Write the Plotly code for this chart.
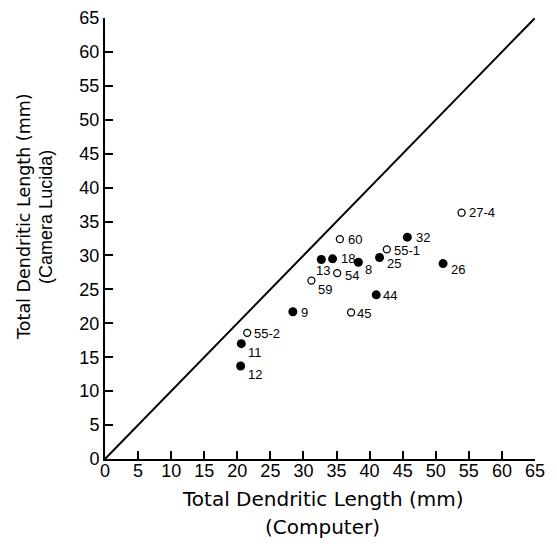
import plotly.graph_objects as go

# Data (Computer vs Camera Lucida total dendritic length, mm)
filled_labels = ["18", "13", "8", "25", "44", "9", "32", "26", "11", "12"]
filled_x = [34.4, 32.7, 38.3, 41.5, 41.0, 28.4, 45.7, 51.1, 20.6, 20.5]
filled_y = [29.5, 29.4, 29.0, 29.7, 24.2, 21.7, 32.7, 28.8, 17.0, 13.7]

open_labels = ["60", "54", "59", "45", "27-4", "55-1", "55-2"]
open_x = [35.5, 35.1, 31.2, 37.2, 53.9, 42.6, 21.5]
open_y = [32.4, 27.4, 26.3, 21.6, 36.3, 30.9, 18.6]

identity_x = [0, 65]
identity_y = [0, 65]
tick_vals = list(range(0, 70, 5))

# label placement (pixel offsets from the marker centre): (xshift, yshift down, anchor)
filled_off = [(6, 0, "left"), (2, 11, "center"), (5, 7, "left"), (5, 6, "left"),
              (5, 1, "left"), (6, 1, "left"), (7, 0, "left"), (6, 6, "left"),
              (5, 9, "left"), (5, 8, "left")]
open_off = [(6, 0, "left"), (6, 2, "left"), (5, 9, "left"), (4, 1, "left"),
            (5, 0, "left"), (5, 1, "left"), (5, 1, "left")]

FONT = "Liberation Sans"
TFONT = "DejaVu Sans"

fig = go.Figure()
fig.add_trace(go.Scatter(x=identity_x, y=identity_y, mode="lines",
                         line=dict(color="black", width=2), showlegend=False,
                         hoverinfo="skip"))
fig.add_trace(go.Scatter(x=filled_x, y=filled_y, mode="markers",
                         marker=dict(symbol="circle", size=9, color="black"),
                         showlegend=False, cliponaxis=False))
fig.add_trace(go.Scatter(x=open_x, y=open_y, mode="markers",
                         marker=dict(symbol="circle-open", size=7, color="black",
                                     line=dict(width=1.3, color="black")),
                         showlegend=False, cliponaxis=False))

annos = []
for labels, xs, ys, offs in [(filled_labels, filled_x, filled_y, filled_off),
                             (open_labels, open_x, open_y, open_off)]:
    for lab, x, y, (dx, dy, anc) in zip(labels, xs, ys, offs):
        annos.append(dict(text=lab, x=x, y=y, xref="x", yref="y", showarrow=False,
                          xanchor=anc, yanchor="middle", xshift=dx, yshift=-dy,
                          font=dict(family=FONT, size=13, color="black")))

axis_common = dict(range=[0, 65], tickvals=tick_vals, ticks="inside", ticklen=8,
                   tickwidth=1.5, tickcolor="black", showline=True, linecolor="black",
                   linewidth=2, showgrid=False, zeroline=False, automargin=False,
                   tickfont=dict(family=FONT, size=18, color="black"))

fig.update_xaxes(**axis_common, ticklabelstandoff=-6)
fig.update_yaxes(**axis_common)

annos += [
    dict(text="Total Dendritic Length (mm)", x=0.5, y=0, xref="paper", yref="paper",
         xanchor="center", yanchor="middle", yshift=-40, xshift=3, showarrow=False,
         font=dict(family=TFONT, size=20, color="black")),
    dict(text="(Computer)", x=0.5, y=0, xref="paper", yref="paper",
         xanchor="center", yanchor="middle", yshift=-68, xshift=2, showarrow=False,
         font=dict(family=TFONT, size=20, color="black")),
    dict(text="Total Dendritic Length (mm)", x=0, y=0.549, xref="paper", yref="paper",
         xanchor="center", yanchor="middle", xshift=-81, textangle=-90, showarrow=False,
         font=dict(family=TFONT, size=17.5, color="black")),
    dict(text="(Camera Lucida)", x=0, y=0.549, xref="paper", yref="paper",
         xanchor="center", yanchor="middle", xshift=-59, textangle=-90, showarrow=False,
         font=dict(family=FONT, size=18, color="black")),
]

# the page body adds an 8px offset, so the figure is sized to fit the window
fig.update_layout(width=549, height=542, margin=dict(l=97, r=22, t=10, b=91),
                  plot_bgcolor="white", paper_bgcolor="white", annotations=annos)

fig.write_html("out.html")
